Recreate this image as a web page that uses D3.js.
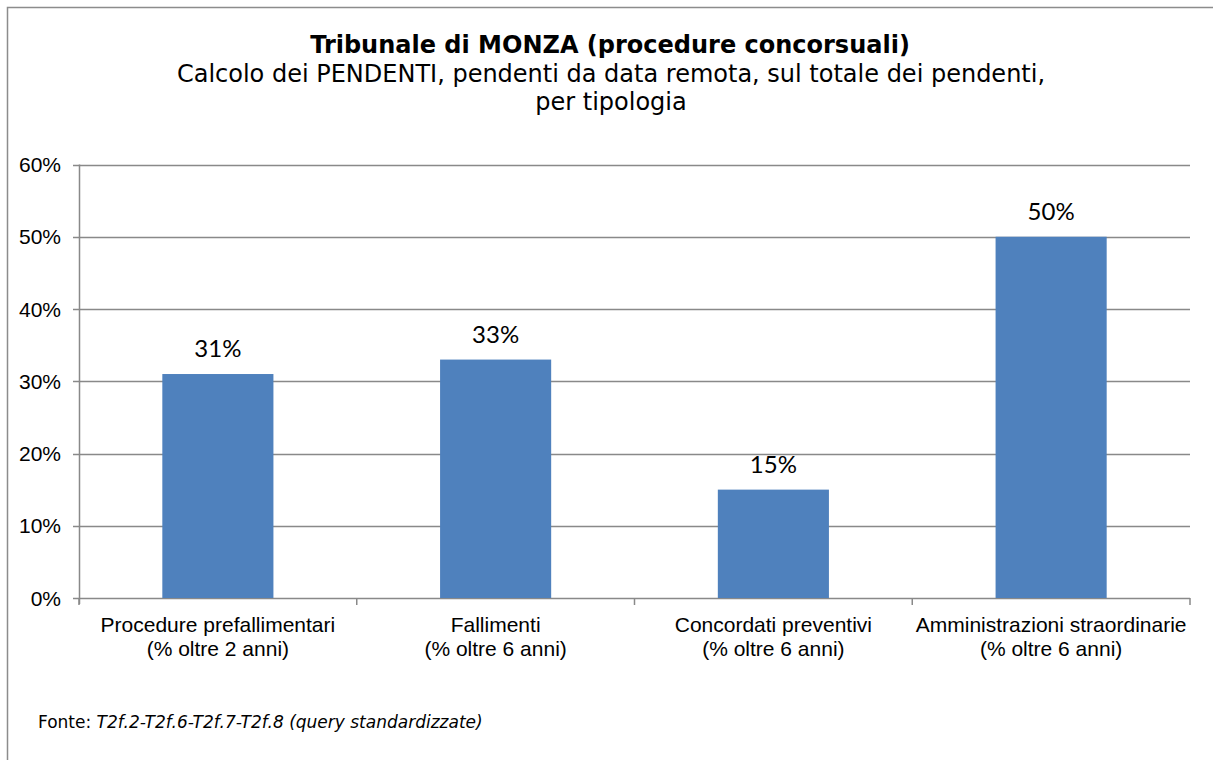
<!DOCTYPE html>
<html>
<head>
<meta charset="utf-8">
<script src="https://cdn.jsdelivr.net/npm/d3@7"></script>
<style>
  body { margin: 0; background: #fff; }
  svg { display: block; }
</style>
</head>
<body>
<svg></svg>
<script>
const categories = [
  ["Procedure prefallimentari", "(% oltre 2 anni)"],
  ["Fallimenti", "(% oltre 6 anni)"],
  ["Concordati preventivi", "(% oltre 6 anni)"],
  ["Amministrazioni straordinarie", "(% oltre 6 anni)"]
];
const values = [0.31, 0.33, 0.15, 0.50];
const yTicks = [0, 0.1, 0.2, 0.3, 0.4, 0.5, 0.6];

const W = 1213, H = 760;
const margin = {left: 79, right: 23, top: 164.5, bottom: 162};

const svg = d3.select('svg')
  .attr('width', W)
  .attr('height', H)

// outer frame (right/bottom edges fall outside the picture)
svg.append('rect')
  .attr('x', 7.5).attr('y', 7.5)
  .attr('width', 1230).attr('height', 800)
  .attr('fill', 'none')
  .attr('stroke', '#8c8c8c')
  .attr('stroke-width', 1.5)

const x = d3.scaleBand()
  .domain(d3.range(categories.length))
  .range([margin.left, W - margin.right])
  .paddingInner(0.6)
  .paddingOuter(0.3)

const y = d3.scaleLinear()
  .domain([0, 0.6])
  .range([H - margin.bottom, margin.top])

// gridlines
svg.append('g')
  .selectAll('line')
  .data(yTicks)
  .join('line')
  .attr('x1', margin.left - 6)
  .attr('x2', W - margin.right)
  .attr('y1', d => Math.round(y(d)) + 0.5)
  .attr('y2', d => Math.round(y(d)) + 0.5)
  .attr('stroke', '#898989')
  .attr('stroke-width', 1.5)

// bars
svg.append('g')
  .selectAll('rect')
  .data(values)
  .join('rect')
  .attr('x', (d, i) => x(i))
  .attr('width', x.bandwidth())
  .attr('y', d => y(d))
  .attr('height', d => y(0) - y(d))
  .attr('fill', '#4f81bd')

// y axis line
svg.append('line')
  .attr('x1', margin.left + 0.5).attr('x2', margin.left + 0.5)
  .attr('y1', y(0.6)).attr('y2', y(0) + 6)
  .attr('stroke', '#898989')
  .attr('stroke-width', 1.5)

// x axis ticks at category boundaries
const step = (W - margin.right - margin.left) / categories.length;
svg.append('g')
  .selectAll('line')
  .data(d3.range(categories.length + 1))
  .join('line')
  .attr('x1', i => margin.left + i * step)
  .attr('x2', i => margin.left + i * step)
  .attr('y1', y(0))
  .attr('y2', y(0) + 7)
  .attr('stroke', '#898989')
  .attr('stroke-width', 1.5)

// y tick labels
svg.append('g')
  .selectAll('text')
  .data(yTicks)
  .join('text')
  .attr('x', 61)
  .attr('y', d => y(d) + 7.5)
  .attr('text-anchor', 'end')
  .attr('font-family', 'Liberation Sans, Arial, sans-serif')
  .attr('font-size', 21)
  .attr('fill', '#000')
  .text(d => d3.format('.0%')(d))

// category labels
const catG = svg.append('g')
  .selectAll('text')
  .data(categories)
  .join('text')
  .attr('text-anchor', 'middle')
  .attr('font-family', 'Liberation Sans, Arial, sans-serif')
  .attr('font-size', 21)
  .attr('fill', '#000')
catG.each(function(d, i) {
  const cx = x(i) + x.bandwidth() / 2;
  d3.select(this).selectAll('tspan')
    .data(d)
    .join('tspan')
    .attr('x', cx)
    .attr('y', (t, j) => 632 + j * 24)
    .text(t => t)
})

// value labels
svg.append('g')
  .selectAll('text')
  .data(values)
  .join('text')
  .attr('x', (d, i) => x(i) + x.bandwidth() / 2)
  .attr('y', d => y(d) - 17)
  .attr('text-anchor', 'middle')
  .attr('font-family', 'Lato, Carlito, Calibri, sans-serif')
  .attr('font-size', 24)
  .attr('fill', '#000')
  .text(d => d3.format('.0%')(d))

// titles
svg.append('text')
  .attr('x', 610).attr('y', 53)
  .attr('text-anchor', 'middle')
  .attr('font-family', 'DejaVu Sans, Verdana, sans-serif')
  .attr('font-weight', 'bold')
  .attr('font-size', 24)
  .text('Tribunale di MONZA (procedure concorsuali)')

const subtitle = ['Calcolo dei PENDENTI, pendenti da data remota, sul totale dei pendenti,', 'per tipologia'];
svg.append('g')
  .selectAll('text')
  .data(subtitle)
  .join('text')
  .attr('x', 611)
  .attr('y', (d, i) => 82 + i * 28)
  .attr('text-anchor', 'middle')
  .attr('font-family', 'DejaVu Sans, Verdana, sans-serif')
  .attr('font-size', 24)
  .text(d => d)

// source note
const note = svg.append('text')
  .attr('x', 38).attr('y', 728)
  .attr('font-family', 'DejaVu Sans, Verdana, sans-serif')
  .attr('font-size', 17)
note.append('tspan').text('Fonte: ')
note.append('tspan').attr('font-style', 'italic').text('T2f.2-T2f.6-T2f.7-T2f.8 (query standardizzate)')
</script>
</body>
</html>
